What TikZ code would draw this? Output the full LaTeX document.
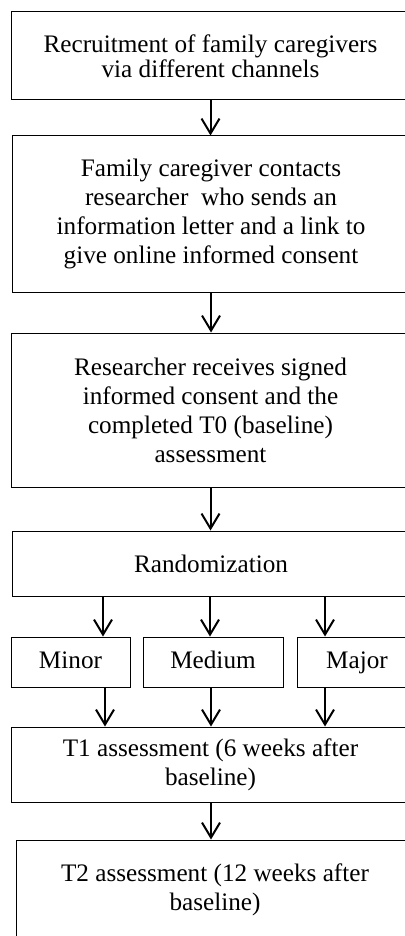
\documentclass[tikz,border=0pt]{standalone}
\usepackage{fontspec}
\setmainfont{Liberation Serif}
\usetikzlibrary{arrows.meta}
\tikzset{
  stage/.style={draw, rectangle, line width=0.5pt, inner sep=0pt, align=center,
    font=\fontsize{12.6}{14.5}\selectfont},
  groupbox/.style={stage, minimum height=25pt, text height=9pt, text depth=3pt},
  arr/.style={-{Straight Barb[length=7.5pt,width=9pt,line width=1pt]}, line width=1pt},
}
\begin{document}
\begin{tikzpicture}[x=0.5pt,y=0.5pt]
  \useasboundingbox (0,0) rectangle (405,-936);
  % main stages
  \node[stage, minimum width=199.5pt, minimum height=44pt,
    font=\fontsize{12.6}{11.2}\selectfont] (recruit) at (210.5,-56)
    {Recruitment of family caregivers\\ via different channels};
  \node[stage, minimum width=199pt, minimum height=78pt] (contact) at (211,-214)
    {Family caregiver contacts\\ researcher\ \ who sends an\\ information letter and a link to\\ give online informed consent};
  \node[stage, minimum width=199.5pt, minimum height=77pt] (consent) at (210.5,-410)
    {Researcher receives signed\\ informed consent and the\\ completed T0 (baseline)\\ assessment};
  \node[stage, minimum width=199pt, minimum height=32.5pt] (rand) at (211,-563.5)
    {Randomization};
  % groups
  \node[groupbox, minimum width=59.5pt] (minor) at (70.5,-662) {Minor};
  \node[groupbox, minimum width=70pt] (medium) at (213,-662) {Medium};
  \node[groupbox, minimum width=60pt] (major) at (357,-662) {Major};
  % follow-up
  \node[stage, minimum width=199.5pt, minimum height=37.5pt] (t1) at (210.5,-764.5)
    {T1 assessment (6 weeks after\\ baseline)};
  \node[stage, minimum width=199pt, minimum height=50pt] (t2) at (215,-890)
    {T2 assessment (12 weeks after\\ baseline)};
  \draw[arr] (recruit.south) -- (recruit.south |- contact.north);
  \draw[arr] (contact.south) -- (contact.south |- consent.north);
  \draw[arr] (consent.south) -- (consent.south |- rand.north);
  \draw[arr] (rand.south -| 103,0) -- (minor.north -| 103,0);
  \draw[arr] (rand.south -| 210,0) -- (medium.north -| 210,0);
  \draw[arr] (rand.south -| 325,0) -- (major.north -| 325,0);
  \draw[arr] (minor.south -| 105,0) -- (t1.north -| 105,0);
  \draw[arr] (medium.south -| 211,0) -- (t1.north -| 211,0);
  \draw[arr] (major.south -| 325,0) -- (t1.north -| 325,0);
  \draw[arr] (t1.south -| 211,0) -- (t2.north -| 211,0);
\end{tikzpicture}
\end{document}
